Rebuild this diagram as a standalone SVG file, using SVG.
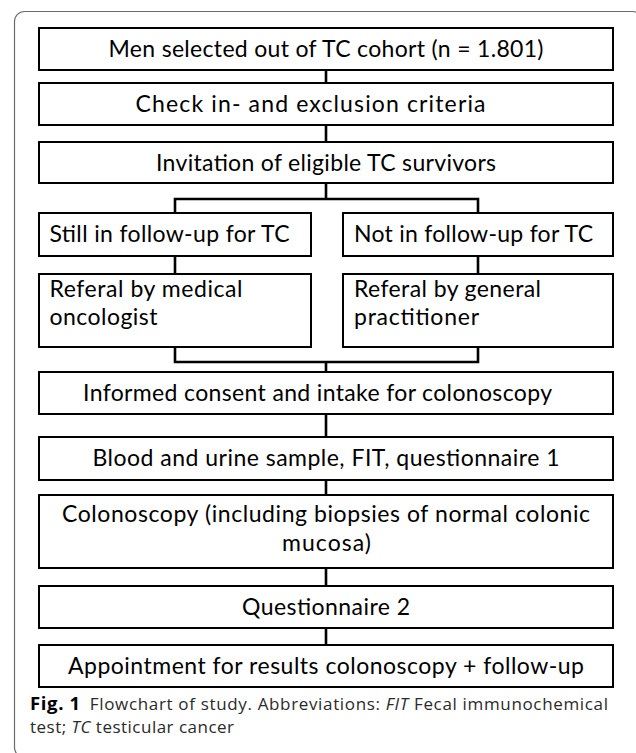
<svg xmlns="http://www.w3.org/2000/svg" width="636" height="753" viewBox="0 0 636 753">
<style>
.box{fill:#fff;stroke:#000;stroke-width:2}
.t{font-family:Lato,"Open Sans","Liberation Sans",sans-serif;font-size:23px;fill:#000}
.c{text-anchor:middle}
.con{fill:none;stroke:#000;stroke-width:2.6}
.cap{font-family:"Open Sans","Noto Sans","Liberation Sans",sans-serif;font-size:17px;fill:#2a2a2a}
</style>
<rect width="636" height="753" fill="#fff"/>
<rect x="14.5" y="11.5" width="628" height="746" rx="10" fill="none" stroke="#6b6b6b" stroke-width="1.2"/>
<g id="connectors">
<line class="con" x1="326" y1="70" x2="326" y2="83"/>
<line class="con" x1="326" y1="125" x2="326" y2="142"/>
<line class="con" x1="326" y1="183" x2="326" y2="199"/>
<path class="con" d="M175,213 V199 H478 V213"/>
<line class="con" x1="175" y1="256" x2="175" y2="274"/>
<line class="con" x1="478" y1="256" x2="478" y2="274"/>
<path class="con" d="M175,347 V362 H478 V347"/>
<line class="con" x1="326" y1="362" x2="326" y2="372"/>
<line class="con" x1="326" y1="414" x2="326" y2="437"/>
<line class="con" x1="326" y1="480" x2="326" y2="495"/>
<line class="con" x1="326" y1="568" x2="326" y2="586"/>
<line class="con" x1="326" y1="628" x2="326" y2="645"/>
</g>
<g id="n1"><rect class="box" x="39" y="28" width="574" height="42"/><text class="t c" x="326" y="57" textLength="435">Men selected out of TC cohort (n = 1.801)</text></g>
<g id="n2"><rect class="box" x="39" y="83" width="574" height="42"/><text class="t c" x="310.5" y="112" textLength="350">Check in- and exclusion criteria</text></g>
<g id="n3"><rect class="box" x="39" y="142" width="574" height="41"/><text class="t c" x="326" y="171" textLength="340">Invitation of eligible TC survivors</text></g>
<g id="n4"><rect class="box" x="39" y="213" width="272" height="43"/><text class="t" x="49.5" y="242" textLength="240">Still in follow-up for TC</text></g>
<g id="n5"><rect class="box" x="343" y="213" width="270" height="43"/><text class="t" x="354" y="242" textLength="239">Not in follow-up for TC</text></g>
<g id="n6"><rect class="box" x="39" y="274" width="272" height="73"/><text class="t" x="49.5" y="297" textLength="193">Referal by medical</text><text class="t" x="49.5" y="325" textLength="108">oncologist</text></g>
<g id="n7"><rect class="box" x="343" y="274" width="270" height="73"/><text class="t" x="354" y="297" textLength="187">Referal by general</text><text class="t" x="354" y="325" textLength="125">practitioner</text></g>
<g id="n8"><rect class="box" x="39" y="372" width="574" height="42"/><text class="t c" x="317.5" y="401" textLength="469">Informed consent and intake for colonoscopy</text></g>
<g id="n9"><rect class="box" x="39" y="437" width="574" height="43"/><text class="t c" x="326" y="466" textLength="467">Blood and urine sample, FIT, questionnaire 1</text></g>
<g id="n10"><rect class="box" x="39" y="495" width="574" height="73"/><text class="t c" x="326" y="522" textLength="528">Colonoscopy (including biopsies of normal colonic</text><text class="t c" x="326.5" y="551" textLength="89">mucosa)</text></g>
<g id="n11"><rect class="box" x="39" y="586" width="574" height="42"/><text class="t c" x="326" y="615" textLength="168">Questionnaire 2</text></g>
<g id="n12"><rect class="box" x="39" y="645" width="574" height="42"/><text class="t c" x="326" y="674" textLength="516">Appointment for results colonoscopy + follow-up</text></g>
<g id="caption">
<text class="cap" x="30" y="710" textLength="578"><tspan font-weight="bold" fill="#000" font-size="18.5px">Fig. 1</tspan><tspan dx="9">Flowchart of study. Abbreviations: </tspan><tspan font-style="italic">FIT</tspan> Fecal immunochemical</text>
<text class="cap" x="30" y="733" textLength="204">test; <tspan font-style="italic">TC</tspan> testicular cancer</text>
</g>
</svg>
